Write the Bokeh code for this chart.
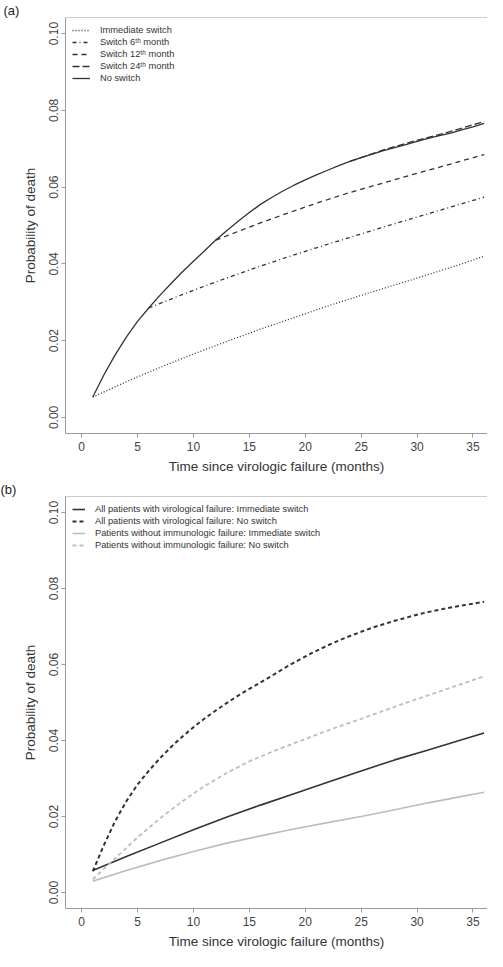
from bokeh.plotting import figure
from bokeh.models import Legend, LegendItem, FixedTicker, PrintfTickFormatter, Span
from bokeh.layouts import column
from bokeh.embed import file_html
from bokeh.resources import INLINE

# ---------------- data ----------------
x_ticks = [0, 5, 10, 15, 20, 25, 30, 35]
y_ticks = [0.0, 0.02, 0.04, 0.06, 0.08, 0.10]
x_lo, x_hi = -1.44, 36.3
y_lo, y_hi = -0.0042, 0.1042

# Panel (a)
months = list(range(1, 37))
no_switch = [0.0053, 0.0111, 0.0163, 0.0209, 0.0250, 0.0285, 0.0318, 0.0349, 0.0379, 0.0407,
             0.0434, 0.0462, 0.0487, 0.0511, 0.0534, 0.0555, 0.0573, 0.0590, 0.0605, 0.0619,
             0.0632, 0.0644, 0.0656, 0.0667, 0.0677, 0.0686, 0.0695, 0.0703, 0.0711, 0.0719,
             0.0727, 0.0734, 0.0741, 0.0749, 0.0757, 0.0766]
imm_x = [1, 4, 7, 10, 13, 16, 19, 22, 25, 28, 31, 34, 36]
imm_y = [0.0053, 0.0093, 0.0130, 0.0165, 0.0198, 0.0230, 0.0260, 0.0290, 0.0318, 0.0345, 0.0372, 0.0400, 0.0420]
sw6_x = [6, 9, 12, 15, 18, 21, 24, 27, 30, 33, 36]
sw6_y = [0.0285, 0.0320, 0.0353, 0.0384, 0.0414, 0.0442, 0.0469, 0.0496, 0.0522, 0.0548, 0.0574]
sw12_x = [12, 15, 18, 21, 24, 27, 30, 33, 36]
sw12_y = [0.0462, 0.0496, 0.0528, 0.0558, 0.0586, 0.0611, 0.0636, 0.0660, 0.0685]
sw24_x = [24, 27, 30, 33, 36]
sw24_y = [0.0667, 0.0697, 0.0722, 0.0745, 0.0771]

# Panel (b)
all_noswitch = [0.0056, 0.0125, 0.0188, 0.0240, 0.0284, 0.0320, 0.0353, 0.0383, 0.0410, 0.0435,
                0.0458, 0.0479, 0.0499, 0.0518, 0.0536, 0.0553, 0.0570, 0.0588, 0.0605, 0.0621,
                0.0636, 0.0650, 0.0663, 0.0675, 0.0686, 0.0697, 0.0706, 0.0715, 0.0723, 0.0731,
                0.0738, 0.0744, 0.0750, 0.0755, 0.0760, 0.0765]
step_x = [1, 4, 7, 10, 13, 16, 19, 22, 25, 28, 31, 34, 36]
all_imm = [0.0058, 0.0095, 0.0130, 0.0165, 0.0199, 0.0230, 0.0260, 0.0290, 0.0320, 0.0349, 0.0375, 0.0402, 0.0420]
noimm_imm = [0.0030, 0.0058, 0.0084, 0.0108, 0.0130, 0.0149, 0.0167, 0.0184, 0.0200, 0.0218, 0.0236, 0.0253, 0.0264]
noimm_no_x = [1, 3, 5, 7, 9, 11, 13, 15, 17, 19, 21, 23, 25, 27, 29, 31, 33, 35, 36]
noimm_no = [0.0035, 0.0090, 0.0145, 0.0195, 0.0240, 0.0280, 0.0315, 0.0345, 0.0370, 0.0393,
            0.0415, 0.0437, 0.0457, 0.0478, 0.0499, 0.0519, 0.0539, 0.0559, 0.0569]

FONT = "Liberation Sans"
AXC = "#9a9a9a"


def make_fig(label, height, top, bottom, left):
    p = figure(width=487, height=height, output_backend="svg", toolbar_location=None,
               x_range=(x_lo, x_hi), y_range=(y_lo, y_hi), title=label,
               min_border_left=left, min_border_right=0,
               min_border_top=top, min_border_bottom=bottom)
    p.outline_line_color = None
    p.grid.visible = False
    p.background_fill_color = "white"
    p.title.text_font = FONT
    p.title.text_font_size = "13px"
    p.title.text_font_style = "normal"
    p.title.text_color = "#222"
    p.title.align = "left"
    p.title.offset = -left
    p.title.standoff = 0

    p.xaxis.ticker = FixedTicker(ticks=x_ticks)
    p.yaxis.ticker = FixedTicker(ticks=y_ticks)
    p.yaxis.formatter = PrintfTickFormatter(format="%.2f")
    p.yaxis.major_label_orientation = "vertical"
    for ax in (p.xaxis, p.yaxis):
        ax.axis_line_color = AXC
        ax.major_tick_line_color = AXC
        ax.minor_tick_line_color = None
        ax.major_tick_in = 0
        ax.major_tick_out = 4
        ax.major_label_text_font = FONT
        ax.major_label_text_font_size = "12px"
        ax.major_label_text_color = "#444"
        ax.major_label_text_line_height = 1.0
        ax.axis_label_text_font = FONT
        ax.axis_label_text_font_size = "13.5px"
        ax.axis_label_text_font_style = "normal"
        ax.axis_label_text_color = "#333"
        ax.axis_label_text_line_height = 1.0
    p.xaxis.major_label_standoff = 4
    p.yaxis.major_label_standoff = 3
    p.xaxis.axis_label_standoff = 5
    p.yaxis.axis_label_standoff = 9
    p.xaxis.axis_label = "Time since virologic failure (months)"
    p.yaxis.axis_label = "Probability of death"
    p.add_layout(Span(location=y_hi, dimension="width", line_color=AXC, line_width=1))
    return p


def style_legend(p, items, glyph_w, font_size):
    lg = Legend(items=items, location="top_left", border_line_alpha=0,
                background_fill_alpha=0, label_text_font=FONT,
                label_text_font_size=font_size, label_text_color="#333",
                glyph_width=glyph_w, glyph_height=12, label_height=12, spacing=0,
                padding=7, margin=0, label_standoff=10)
    p.add_layout(lg)


# ---------------- panel (a) ----------------
pa = make_fig("(a)", 476, 14, 0, 62)
LC = "#333333"
r_no = pa.line(months, no_switch, line_color=LC, line_width=1.3)
r_imm = pa.line(imm_x, imm_y, line_color=LC, line_width=1.3, line_dash="1 2")
r_6 = pa.line(sw6_x, sw6_y, line_color=LC, line_width=1.3, line_dash="4 3 1 3")
r_12 = pa.line(sw12_x, sw12_y, line_color=LC, line_width=1.3, line_dash="5 4")
r_24 = pa.line(sw24_x, sw24_y, line_color=LC, line_width=1.3, line_dash="7 3")
style_legend(pa, [
    LegendItem(label="Immediate switch", renderers=[r_imm]),
    LegendItem(label="Switch 6\u1d57\u02b0 month", renderers=[r_6]),
    LegendItem(label="Switch 12\u1d57\u02b0 month", renderers=[r_12]),
    LegendItem(label="Switch 24\u1d57\u02b0 month", renderers=[r_24]),
    LegendItem(label="No switch", renderers=[r_no]),
], 18, "9.3px")

# ---------------- panel (b) ----------------
pb = make_fig("(b)", 475, 20, 0, 65)
GC = "#bdbdbd"
r_b1 = pb.line(step_x, all_imm, line_color=LC, line_width=1.6)
r_b2 = pb.line(months, all_noswitch, line_color=LC, line_width=2, line_dash="4 3")
r_b3 = pb.line(step_x, noimm_imm, line_color=GC, line_width=1.6)
r_b4 = pb.line(noimm_no_x, noimm_no, line_color=GC, line_width=1.8, line_dash="4 3")
style_legend(pb, [
    LegendItem(label="All patients with virological failure: Immediate switch", renderers=[r_b1]),
    LegendItem(label="All patients with virological failure: No switch", renderers=[r_b2]),
    LegendItem(label="Patients without immunologic failure: Immediate switch", renderers=[r_b3]),
    LegendItem(label="Patients without immunologic failure: No switch", renderers=[r_b4]),
], 13, "9.3px")

layout = column(pa, pb, spacing=0)
open("out.html", "w").write(file_html(layout, INLINE))
